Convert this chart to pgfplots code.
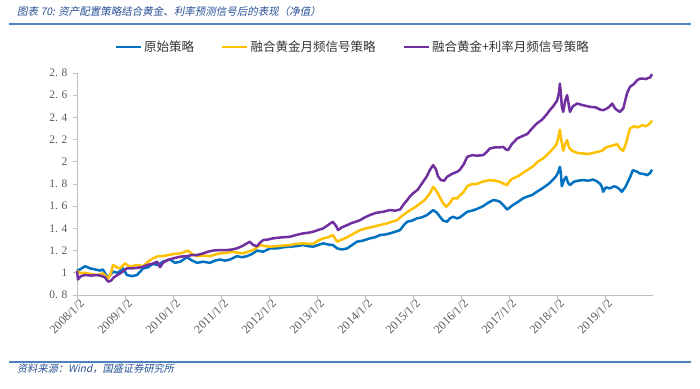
\documentclass[border=0pt]{standalone}
\usepackage{pgfplots}
\pgfplotsset{compat=1.18}
\usepackage{fontspec}
\setmainfont{Liberation Serif}
\newfontfamily\cjk{Noto Sans CJK SC}
\newfontfamily\cjkit[FakeSlant=0.2]{Noto Sans CJK SC}
\definecolor{cblue}{RGB}{0,112,192}
\definecolor{cyellow}{RGB}{255,192,0}
\definecolor{cpurple}{RGB}{112,48,160}
\definecolor{titleblue}{RGB}{40,80,150}
\definecolor{rulec}{RGB}{79,129,189}
\definecolor{axgray}{RGB}{191,191,191}
\definecolor{lblgray}{RGB}{89,89,89}
\begin{document}
\begin{tikzpicture}
\path[use as bounding box] (0pt,0pt) rectangle (700pt,388pt);
\node[anchor=west, text=titleblue, font=\cjkit\fontsize{10.5}{12}\selectfont, inner sep=0pt] at (17pt,376pt) {图表 70: 资产配置策略结合黄金、利率预测信号后的表现（净值）};
\draw[rulec, line width=2pt] (9pt,364pt) -- (691pt,364pt);
\draw[rulec, line width=1.2pt] (9pt,26pt) -- (691pt,26pt);
\node[anchor=west, text=titleblue, font=\cjkit\fontsize{10.2}{12}\selectfont, inner sep=0pt] at (17pt,19pt) {资料来源：Wind，国盛证券研究所};
\begin{axis}[
  at={(77pt,93pt)}, anchor=south west, scale only axis,
  width=576pt, height=222pt,
  xmin=2008, xmax=2020, ymin=0.8, ymax=2.8,
  axis x line*=bottom, axis y line*=left,
  axis line style={-, axgray, line width=0.8pt},
  tick style={axgray, line width=0.8pt},
  tick align=outside, major tick length=4pt,
  xtick={2008,2009,2010,2011,2012,2013,2014,2015,2016,2017,2018,2019},
  xticklabels={2008/1/2,2009/1/2,2010/1/2,2011/1/2,2012/1/2,2013/1/2,2014/1/2,2015/1/2,2016/1/2,2017/1/2,2018/1/2,2019/1/2},
  ytick={0.8,1,1.2,1.4,1.6,1.8,2,2.2,2.4,2.6,2.8},
  yticklabels={0. 8,1,1. 2,1. 4,1. 6,1. 8,2,2. 2,2. 4,2. 6,2. 8},
  x tick label style={rotate=45, anchor=north east, font=\fontsize{12}{14}\selectfont, text=lblgray, inner sep=1pt, xshift=3pt},
  y tick label style={font=\fontsize{11.5}{13}\selectfont, text=lblgray, xshift=-2pt},
  clip=false,
  legend columns=3,
  legend style={at={(0.479,1.117)}, anchor=center, draw=none, fill=none,
    font=\cjk\fontsize{12.5}{14}\selectfont, text=black!80,
    /tikz/every even column/.append style={column sep=25pt}},
  legend image code/.code={\draw[#1, line width=2.4pt] (0pt,0pt) -- (25pt,0pt);},
  every axis plot/.append style={line width=2.5pt, line join=round},
]
\addplot[cblue] table[row sep=\\] {
x y\\
2008.00 1.02\\ 2008.06 1.03\\ 2008.17 1.06\\ 2008.27 1.04\\ 2008.38 1.03\\ 2008.48 1.02\\
2008.54 1.03\\ 2008.63 0.96\\ 2008.69 0.98\\ 2008.75 1.01\\ 2008.85 1.00\\ 2008.96 1.04\\
2009.04 0.98\\ 2009.15 0.97\\ 2009.25 0.98\\ 2009.38 1.04\\ 2009.48 1.05\\ 2009.58 1.08\\
2009.69 1.07\\ 2009.79 1.10\\ 2009.94 1.12\\ 2010.04 1.09\\ 2010.15 1.10\\ 2010.29 1.14\\
2010.40 1.11\\ 2010.50 1.09\\ 2010.63 1.10\\ 2010.77 1.09\\ 2010.88 1.11\\ 2010.98 1.12\\
2011.08 1.11\\ 2011.19 1.12\\ 2011.33 1.15\\ 2011.44 1.14\\ 2011.54 1.15\\ 2011.65 1.17\\
2011.75 1.20\\ 2011.88 1.19\\ 2012.02 1.22\\ 2012.17 1.22\\ 2012.29 1.23\\ 2012.44 1.235\\
2012.56 1.24\\ 2012.71 1.25\\ 2012.81 1.24\\ 2012.92 1.235\\ 2013.02 1.25\\ 2013.13 1.265\\
2013.23 1.255\\ 2013.33 1.25\\ 2013.42 1.22\\ 2013.52 1.21\\ 2013.63 1.22\\ 2013.73 1.25\\
2013.83 1.28\\ 2013.96 1.29\\ 2014.10 1.31\\ 2014.21 1.32\\ 2014.31 1.34\\ 2014.42 1.345\\
2014.52 1.355\\ 2014.63 1.37\\ 2014.73 1.385\\ 2014.81 1.43\\ 2014.88 1.46\\ 2014.98 1.47\\
2015.08 1.49\\ 2015.19 1.50\\ 2015.29 1.52\\ 2015.35 1.54\\ 2015.42 1.565\\ 2015.50 1.54\\
2015.56 1.505\\ 2015.63 1.47\\ 2015.71 1.46\\ 2015.77 1.49\\ 2015.83 1.505\\ 2015.92 1.49\\
2015.98 1.50\\ 2016.04 1.52\\ 2016.13 1.55\\ 2016.23 1.56\\ 2016.33 1.575\\ 2016.46 1.60\\
2016.56 1.63\\ 2016.67 1.655\\ 2016.75 1.65\\ 2016.81 1.64\\ 2016.90 1.60\\ 2016.96 1.57\\
2017.02 1.59\\ 2017.08 1.61\\ 2017.19 1.64\\ 2017.29 1.67\\ 2017.40 1.69\\ 2017.48 1.70\\
2017.58 1.73\\ 2017.69 1.76\\ 2017.79 1.79\\ 2017.85 1.81\\ 2017.92 1.84\\ 2017.98 1.87\\
2018.02 1.90\\ 2018.06 1.955\\ 2018.08 1.90\\ 2018.10 1.78\\ 2018.15 1.84\\ 2018.19 1.865\\
2018.23 1.81\\ 2018.27 1.79\\ 2018.35 1.82\\ 2018.44 1.83\\ 2018.54 1.835\\ 2018.65 1.83\\
2018.75 1.84\\ 2018.83 1.825\\ 2018.90 1.80\\ 2018.94 1.77\\ 2018.96 1.73\\ 2019.02 1.77\\
2019.10 1.76\\ 2019.19 1.78\\ 2019.25 1.77\\ 2019.31 1.75\\ 2019.35 1.73\\ 2019.42 1.77\\
2019.46 1.805\\ 2019.52 1.86\\ 2019.58 1.925\\ 2019.67 1.91\\ 2019.73 1.895\\ 2019.81 1.89\\
2019.88 1.88\\ 2019.94 1.90\\ 2019.98 1.93\\
};
\addlegendentry{原始策略}
\addplot[cyellow] table[row sep=\\] {
x y\\
2008.00 1.02\\ 2008.06 1.00\\ 2008.17 1.00\\ 2008.27 0.99\\ 2008.42 0.98\\ 2008.54 0.995\\
2008.65 0.95\\ 2008.71 1.00\\ 2008.75 1.07\\ 2008.83 1.05\\ 2008.90 1.04\\ 2009.00 1.085\\
2009.10 1.055\\ 2009.25 1.07\\ 2009.38 1.06\\ 2009.48 1.10\\ 2009.58 1.13\\ 2009.69 1.15\\
2009.79 1.15\\ 2009.90 1.16\\ 2010.02 1.17\\ 2010.15 1.175\\ 2010.25 1.19\\ 2010.31 1.20\\
2010.40 1.17\\ 2010.50 1.15\\ 2010.63 1.155\\ 2010.77 1.15\\ 2010.88 1.165\\ 2010.98 1.175\\
2011.13 1.18\\ 2011.25 1.19\\ 2011.35 1.18\\ 2011.46 1.175\\ 2011.56 1.19\\ 2011.67 1.205\\
2011.75 1.23\\ 2011.81 1.25\\ 2011.92 1.24\\ 2012.02 1.235\\ 2012.17 1.24\\ 2012.29 1.245\\
2012.44 1.25\\ 2012.56 1.26\\ 2012.71 1.265\\ 2012.81 1.26\\ 2012.92 1.26\\ 2013.02 1.29\\
2013.13 1.31\\ 2013.23 1.32\\ 2013.33 1.34\\ 2013.42 1.28\\ 2013.52 1.30\\ 2013.63 1.32\\
2013.75 1.35\\ 2013.90 1.385\\ 2014.02 1.40\\ 2014.17 1.415\\ 2014.31 1.43\\ 2014.46 1.445\\
2014.56 1.46\\ 2014.67 1.475\\ 2014.79 1.52\\ 2014.94 1.565\\ 2015.04 1.59\\ 2015.15 1.625\\
2015.25 1.66\\ 2015.35 1.715\\ 2015.42 1.775\\ 2015.50 1.73\\ 2015.56 1.68\\ 2015.63 1.625\\
2015.69 1.595\\ 2015.77 1.63\\ 2015.83 1.67\\ 2015.92 1.67\\ 2015.98 1.70\\ 2016.04 1.72\\
2016.13 1.78\\ 2016.23 1.80\\ 2016.33 1.80\\ 2016.44 1.82\\ 2016.60 1.835\\ 2016.71 1.83\\
2016.81 1.82\\ 2016.90 1.80\\ 2016.96 1.79\\ 2017.02 1.83\\ 2017.08 1.85\\ 2017.19 1.87\\
2017.29 1.90\\ 2017.38 1.925\\ 2017.50 1.96\\ 2017.60 2.00\\ 2017.71 2.03\\ 2017.81 2.07\\
2017.92 2.12\\ 2017.98 2.15\\ 2018.02 2.20\\ 2018.06 2.29\\ 2018.08 2.22\\ 2018.13 2.10\\
2018.17 2.16\\ 2018.21 2.195\\ 2018.25 2.13\\ 2018.31 2.10\\ 2018.42 2.08\\ 2018.54 2.075\\
2018.65 2.07\\ 2018.75 2.08\\ 2018.85 2.09\\ 2018.94 2.10\\ 2019.02 2.13\\ 2019.10 2.14\\
2019.19 2.15\\ 2019.25 2.16\\ 2019.31 2.12\\ 2019.38 2.10\\ 2019.44 2.17\\ 2019.48 2.24\\
2019.52 2.30\\ 2019.60 2.32\\ 2019.69 2.31\\ 2019.77 2.33\\ 2019.85 2.32\\ 2019.92 2.34\\
2019.98 2.37\\
};
\addlegendentry{融合黄金月频信号策略}
\addplot[cpurple] table[row sep=\\] {
x y\\
2008.00 1.02\\ 2008.02 0.94\\ 2008.08 0.97\\ 2008.17 0.98\\ 2008.29 0.975\\ 2008.42 0.98\\
2008.52 0.97\\ 2008.58 0.96\\ 2008.65 0.92\\ 2008.71 0.93\\ 2008.77 0.96\\ 2008.90 0.995\\
2008.98 1.02\\ 2009.04 1.04\\ 2009.15 1.04\\ 2009.25 1.045\\ 2009.35 1.05\\ 2009.46 1.07\\
2009.56 1.08\\ 2009.67 1.10\\ 2009.73 1.05\\ 2009.79 1.09\\ 2009.88 1.115\\ 2010.00 1.13\\
2010.15 1.145\\ 2010.29 1.15\\ 2010.40 1.16\\ 2010.50 1.16\\ 2010.63 1.175\\ 2010.73 1.19\\
2010.83 1.20\\ 2010.98 1.205\\ 2011.13 1.205\\ 2011.23 1.21\\ 2011.33 1.22\\ 2011.44 1.24\\
2011.52 1.26\\ 2011.60 1.28\\ 2011.67 1.25\\ 2011.75 1.24\\ 2011.81 1.27\\ 2011.88 1.295\\
2011.98 1.30\\ 2012.08 1.31\\ 2012.17 1.315\\ 2012.29 1.32\\ 2012.44 1.325\\ 2012.56 1.34\\
2012.71 1.355\\ 2012.81 1.36\\ 2012.92 1.37\\ 2013.02 1.385\\ 2013.13 1.40\\ 2013.23 1.43\\
2013.33 1.46\\ 2013.40 1.42\\ 2013.44 1.385\\ 2013.52 1.41\\ 2013.63 1.43\\ 2013.73 1.45\\
2013.81 1.46\\ 2013.90 1.475\\ 2014.00 1.50\\ 2014.10 1.52\\ 2014.23 1.54\\ 2014.38 1.55\\
2014.52 1.565\\ 2014.63 1.56\\ 2014.73 1.57\\ 2014.81 1.62\\ 2014.88 1.655\\ 2014.94 1.69\\
2015.00 1.715\\ 2015.10 1.75\\ 2015.21 1.82\\ 2015.29 1.87\\ 2015.35 1.925\\ 2015.42 1.97\\
2015.48 1.93\\ 2015.52 1.87\\ 2015.58 1.835\\ 2015.65 1.83\\ 2015.71 1.865\\ 2015.77 1.88\\
2015.83 1.895\\ 2015.92 1.91\\ 2015.98 1.93\\ 2016.06 1.98\\ 2016.13 2.045\\ 2016.23 2.06\\
2016.33 2.055\\ 2016.46 2.06\\ 2016.54 2.09\\ 2016.60 2.12\\ 2016.71 2.13\\ 2016.81 2.13\\
2016.88 2.135\\ 2016.94 2.11\\ 2016.98 2.105\\ 2017.06 2.16\\ 2017.17 2.21\\ 2017.27 2.23\\
2017.38 2.25\\ 2017.48 2.30\\ 2017.58 2.345\\ 2017.69 2.38\\ 2017.79 2.43\\ 2017.85 2.465\\
2017.92 2.50\\ 2018.00 2.55\\ 2018.04 2.62\\ 2018.06 2.705\\ 2018.08 2.62\\ 2018.10 2.50\\
2018.13 2.45\\ 2018.17 2.55\\ 2018.21 2.60\\ 2018.25 2.50\\ 2018.27 2.45\\ 2018.33 2.50\\
2018.42 2.525\\ 2018.54 2.51\\ 2018.69 2.495\\ 2018.81 2.49\\ 2018.90 2.47\\ 2018.96 2.465\\
2019.04 2.48\\ 2019.10 2.50\\ 2019.15 2.525\\ 2019.21 2.48\\ 2019.27 2.46\\ 2019.31 2.45\\
2019.38 2.48\\ 2019.46 2.62\\ 2019.52 2.675\\ 2019.60 2.70\\ 2019.67 2.735\\ 2019.73 2.75\\
2019.79 2.75\\ 2019.85 2.745\\ 2019.90 2.755\\ 2019.94 2.76\\ 2019.98 2.79\\
};
\addlegendentry{融合黄金+利率月频信号策略}
\end{axis}
\end{tikzpicture}
\end{document}
